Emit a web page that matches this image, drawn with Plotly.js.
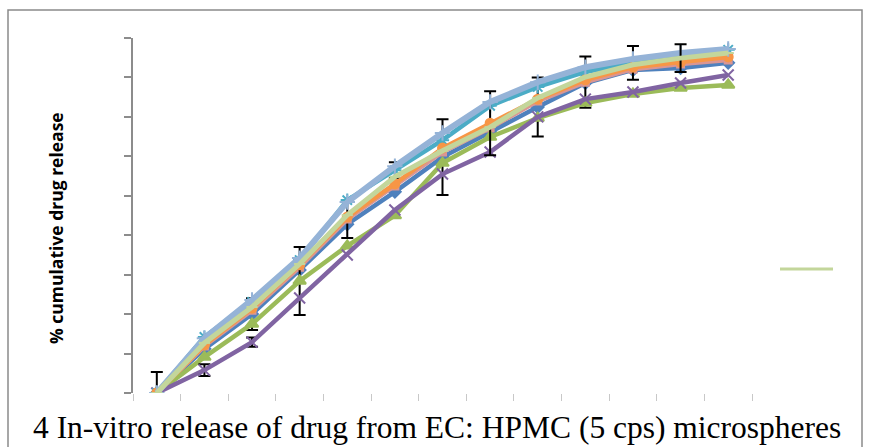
<!DOCTYPE html>
<html>
<head>
<meta charset="utf-8">
<script src="https://cdn.plot.ly/plotly-3.0.1.min.js"></script>
<style>
html,body{margin:0;padding:0;background:#fff;}
#chart{width:872px;height:447px;}
</style>
</head>
<body>
<div id="chart"></div>
<script>
// sampling points (category index; tick labels are not shown in the figure)
var timePoints = [0, 1, 2, 3, 4, 5, 6, 7, 8, 9, 10, 11, 12];
var tickBounds = [-0.5, 0.5, 1.5, 2.5, 3.5, 4.5, 5.5, 6.5, 7.5, 8.5, 9.5, 10.5, 11.5, 12.5];
var yTicks = [0, 10, 20, 30, 40, 50, 60, 70, 80, 90];

// % cumulative drug release
var seriesBlue       = [0, 11.2, 20.0, 31.2, 42.8, 51.0, 59.8, 66.2, 72.5, 78.6, 81.9, 82.4, 83.7];
var seriesPink       = [0, 11.9, 21.0, 31.9, 44.1, 52.5, 61.1, 67.2, 74.0, 78.8, 82.1, 83.4, 84.4];
var seriesGreen      = [0, 9.1, 17.5, 28.4, 37.3, 45.0, 58.3, 64.9, 69.7, 73.5, 75.8, 77.3, 78.1];
var seriesPurple     = [0, 5.8, 12.9, 24.1, 35.0, 46.4, 55.5, 61.1, 70.0, 74.5, 76.3, 78.6, 80.6];
var seriesTeal       = [0, 14.2, 23.1, 33.7, 48.9, 56.5, 64.1, 72.8, 77.6, 81.4, 83.7, 85.2, 87.0];
var seriesOrange     = [0, 12.2, 21.5, 32.5, 44.6, 53.0, 62.1, 68.4, 74.5, 79.4, 82.6, 83.9, 85.2];
var seriesLightBlue  = [0, 13.9, 23.6, 34.2, 48.4, 57.5, 65.9, 73.8, 78.8, 82.6, 84.7, 86.2, 87.2];
var seriesLightGreen = [0, 12.7, 21.8, 32.7, 45.1, 54.8, 61.4, 67.4, 74.8, 80.1, 83.2, 84.9, 86.2];

// standard deviations (NaN = no error bar drawn)
var sdBlueUp     = [5.3, NaN, 4.0, NaN, NaN, NaN, 9.6, NaN, 7.5, NaN, NaN, NaN, NaN];
var sdBlueDown   = [0,   NaN, 4.0, NaN, NaN, NaN, 9.6, NaN, 7.5, NaN, NaN, NaN, NaN];
var sdPink       = [NaN, NaN, NaN, NaN, 4.8, NaN, NaN, NaN, NaN, 6.5, NaN, NaN, NaN];
var sdGreen      = [NaN, NaN, NaN, 8.6, NaN, NaN, NaN, NaN, NaN, NaN, NaN, NaN, NaN];
var sdPurple     = [NaN, 1.5, 1.2, NaN, NaN, NaN, NaN, NaN, NaN, NaN, NaN, NaN, NaN];
var sdTeal       = [NaN, NaN, NaN, NaN, NaN, 2.0, NaN, NaN, NaN, NaN, 4.3, NaN, NaN];
var sdOrange     = [NaN, NaN, NaN, NaN, NaN, NaN, NaN, 8.1, NaN, NaN, NaN, NaN, NaN];
var sdLightGreen = [NaN, NaN, NaN, NaN, NaN, NaN, NaN, NaN, NaN, NaN, NaN, 3.5, NaN];

var yTitle = '% cumulative drug release';
var caption = '4 In-vitro release of drug from EC: HPMC (5 cps) microspheres';

function err(up, down) {
  var e = {type: 'data', array: up, color: '#000000', thickness: 2, width: 6, visible: true};
  if (down) { e.symmetric = false; e.arrayminus = down; }
  return e;
}
function tr(y, color, symbol, size, lw, e) {
  var t = {
    x: timePoints, y: y, type: 'scatter', mode: 'lines+markers',
    line: {color: color, width: lw},
    marker: {symbol: symbol, size: size, color: color, line: {color: color, width: 2}},
    showlegend: false, hoverinfo: 'skip'
  };
  if (e) t.error_y = e;
  return t;
}

var data = [
  tr(seriesBlue, '#4F81BD', 'diamond', 9, 4.5, err(sdBlueUp, sdBlueDown)),
  tr(seriesPink, '#D99694', 'square', 7, 4.5, err(sdPink)),
  tr(seriesGreen, '#9BBB59', 'triangle-up', 11, 4.5, err(sdGreen)),
  tr(seriesPurple, '#8064A2', 'x-thin-open', 11, 4.5, err(sdPurple)),
  tr(seriesTeal, '#4BACC6', 'asterisk-open', 11, 4.5, err(sdTeal)),
  tr(seriesOrange, '#F79646', 'circle', 9, 4.5, err(sdOrange)),
  tr(seriesLightBlue, '#95B3D7', 'cross-thin-open', 11, 6, null),
  tr(seriesLightGreen, '#C3D69B', 'line-ew-open', 8, 5, err(sdLightGreen))
];

var L = 133, R = 752, T = 38, B = 393;
function px(x) { return (x - L) / (R - L); }
function py(y) { return (B - y) / (B - T); }

var layout = {
  width: 872, height: 447,
  margin: {l: L, r: 872 - R, t: T, b: 447 - B, pad: 0},
  paper_bgcolor: '#ffffff', plot_bgcolor: 'rgba(0,0,0,0)',
  showlegend: false,
  xaxis: {
    range: [-0.5, 12.5], tickmode: 'array', tickvals: tickBounds, ticktext: tickBounds.map(function(){return '';}),
    ticks: 'outside', ticklen: 7, tickcolor: '#c8c8c8', tickwidth: 1,
    showline: false, showgrid: false, zeroline: false, fixedrange: true
  },
  yaxis: {
    range: [0, 90], tickmode: 'array', tickvals: yTicks, ticktext: yTicks.map(function(){return '';}),
    ticks: 'outside', ticklen: 7, tickcolor: '#8c8c8c', tickwidth: 2,
    showline: true, linecolor: '#8c8c8c', linewidth: 2,
    showgrid: false, zeroline: false, fixedrange: true
  },
  shapes: [
    {type: 'rect', xref: 'paper', yref: 'paper', x0: px(8), x1: px(862), y0: py(470), y1: py(10),
     line: {color: '#8a8a8a', width: 1.5}, fillcolor: 'rgba(0,0,0,0)', layer: 'below'},
    {type: 'line', xref: 'paper', yref: 'paper', x0: px(780), x1: px(833), y0: py(269), y1: py(269),
     line: {color: '#C3D69B', width: 3}}
  ],
  annotations: [
    {text: '<b>' + yTitle + '</b>', xref: 'paper', yref: 'paper', x: px(56), y: py(228),
     xanchor: 'center', yanchor: 'middle', textangle: -90, showarrow: false,
     font: {family: '"Open Sans", Lato, sans-serif', size: 17.5, color: '#000000'}},
    {text: caption, xref: 'paper', yref: 'paper', x: px(31), y: py(447),
     xanchor: 'left', yanchor: 'bottom', showarrow: false,
     font: {family: '"Liberation Serif", "Times New Roman", serif', size: 31.5, color: '#000000'}}
  ]
};

Plotly.newPlot('chart', data, layout, {displayModeBar: false, staticPlot: true});
</script>
</body>
</html>
